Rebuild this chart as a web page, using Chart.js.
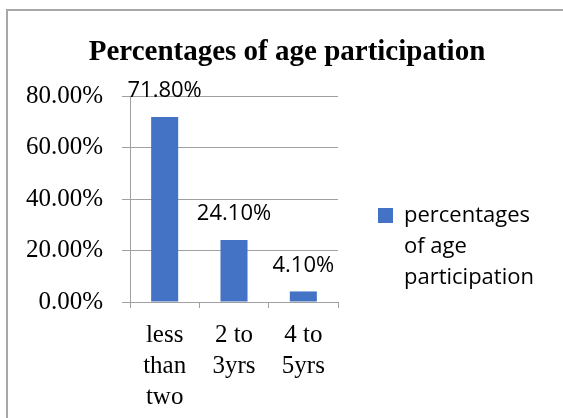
<!DOCTYPE html>
<html>
<head>
<meta charset="utf-8">
<script src="https://cdn.jsdelivr.net/npm/chart.js@4/dist/chart.umd.min.js"></script>
<style>
  html, body { margin: 0; padding: 0; background: #fff; overflow: hidden; }
  canvas { display: block; }
</style>
</head>
<body>
<canvas id="c" width="563" height="418"></canvas>
<script>
// ---- data ----
const categories = [['less', 'than', 'two'], ['2 to', '3yrs'], ['4 to', '5yrs']];
const values = [71.8, 24.1, 4.1];
const seriesName = 'percentages of age participation';
const legendLines = ['percentages', 'of age', 'participation'];
const chartTitle = 'Percentages of age participation';
const yMin = 0, yMax = 80, yStep = 20;

const barColor = '#4472C4';
const gridColor = '#a0a0a0';

// layout
const padLeft = 20, padRight = 9;        // title centred at x≈287
const legendLeft = 373.5;                 // legend box starts ~378
const legendW = 563 - padRight - legendLeft;
const legendPad = 4.5;

const frame = {
  id: 'frame',
  beforeDraw(chart) {
    const ctx = chart.ctx;
    ctx.save();
    ctx.strokeStyle = '#a8a8a8';
    ctx.lineWidth = 2;
    ctx.beginPath();
    ctx.moveTo(7, 418);
    ctx.lineTo(7, 10);
    ctx.lineTo(563, 10);
    ctx.stroke();
    ctx.restore();
  }
};

const dataLabels = {
  id: 'dataLabels',
  afterDatasetsDraw(chart) {
    const ctx = chart.ctx;
    const meta = chart.getDatasetMeta(0);
    ctx.save();
    ctx.font = '22px "Open Sans"';
    ctx.fillStyle = '#000';
    ctx.textAlign = 'center';
    ctx.textBaseline = 'middle';
    meta.data.forEach((bar, i) => {
      const v = chart.data.datasets[0].data[i];
      ctx.fillText(v.toFixed(2) + '%', bar.x, bar.y - 26);
    });
    ctx.restore();
  }
};

new Chart(document.getElementById('c'), {
  type: 'bar',
  data: {
    labels: categories,
    datasets: [{
      label: seriesName,
      data: values,
      backgroundColor: barColor,
      borderWidth: 0,
      barPercentage: 0.39,
      categoryPercentage: 1.0
    }]
  },
  options: {
    responsive: false,
    animation: false,
    layout: { padding: { left: padLeft, right: padRight, top: 0, bottom: 0 } },
    plugins: {
      tooltip: { enabled: false },
      title: {
        display: true,
        text: chartTitle,
        color: '#000',
        font: { family: '"Liberation Serif"', size: 29, weight: 'bold', lineHeight: 1.2 },
        padding: { top: 35, bottom: 26.2 }
      },
      legend: {
        display: true,
        position: 'right',
        align: 'end',
        fullSize: false,
        maxWidth: legendW,
        labels: {
          boxWidth: 15,
          boxHeight: 15,
          padding: legendPad,
          color: '#000',
          font: { family: '"Open Sans"', size: 22, lineHeight: 31 / 22 },
          generateLabels: () => [{
            // trailing spaces only widen the measured item so the legend fills its slot
            text: legendLines.map((t, i) => i === legendLines.length - 1 ? t + '      ' : t),
            fillStyle: barColor,
            strokeStyle: barColor,
            lineWidth: 0,
            hidden: false,
            datasetIndex: 0
          }]
        }
      }
    },
    scales: {
      x: {
        position: 'bottom',
        afterFit: s => { s.height = 116; },
        grid: { display: true, drawOnChartArea: false, drawTicks: true, tickLength: 6, color: gridColor, offset: true },
        border: { display: true, color: gridColor, width: 1 },
        ticks: {
          color: '#000',
          padding: 11.5,
          maxRotation: 0,
          autoSkip: false,
          font: { family: '"Liberation Serif"', size: 25, lineHeight: 31 / 25 }
        }
      },
      y: {
        position: 'left',
        min: yMin,
        max: yMax,
        afterFit: s => { s.width = 130 - padLeft; },
        grid: { display: true, drawTicks: true, tickLength: 8, color: gridColor, lineWidth: 1 },
        border: { display: true, color: gridColor, width: 1 },
        ticks: {
          stepSize: yStep,
          color: '#000',
          padding: 19,
          font: { family: '"Liberation Serif"', size: 25 },
          callback: v => v.toFixed(2) + '%'
        }
      },
      gap: {
        position: 'right',
        display: true,
        afterFit: s => { s.width = legendLeft - 338; },
        grid: { display: false },
        border: { display: false },
        ticks: { display: false }
      }
    }
  },
  plugins: [frame, dataLabels]
});
</script>
</body>
</html>
